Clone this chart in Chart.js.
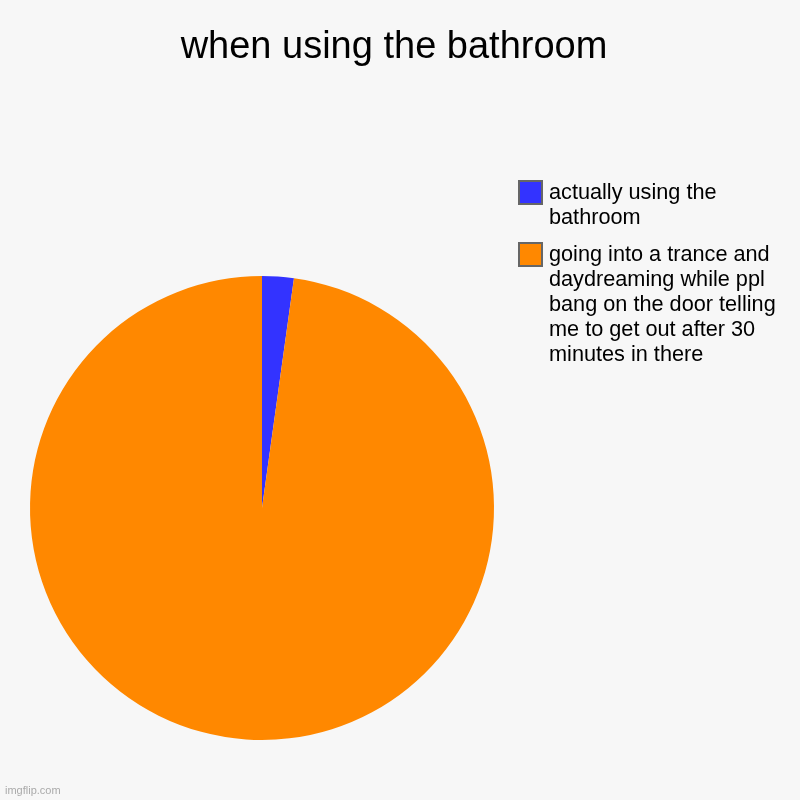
<!DOCTYPE html>
<html>
<head>
<meta charset="utf-8">
<script src="https://cdn.jsdelivr.net/npm/chart.js@4/dist/chart.umd.min.js"></script>
<style>
  html, body { margin: 0; padding: 0; background: #f7f7f7; }
  #wrap { width: 800px; height: 800px; }
</style>
</head>
<body>
<div id="wrap"><canvas id="pieChart" width="800" height="800"></canvas></div>
<script>
const chartTitle = "when using the bathroom";
const labels = [
    "actually using the bathroom",
    "going into a trance and daydreaming while ppl bang on the door telling me to get out after 30 minutes in there",
];
const values = [2.2, 97.8];
const sliceColors = ["#3333ff", "#ff8800"];

// wrap a label into lines that fit maxW
function wrapText(ctx, text, maxW) {
    let words = text.split(" ");
    let lines = [];
    let cur = "";
    for (let w of words) {
        let test = cur ? cur + " " + w : w;
        if (ctx.measureText(test).width > maxW && cur) {
            lines.push(cur);
            cur = w;
        } else {
            cur = test;
        }
    }
    if (cur) lines.push(cur);
    return lines;
}

/* draws title, legend and watermark */
const decorPlugin = {
    id: "decor",
    beforeDraw(chart) {
        const ctx = chart.ctx;
        ctx.save();
        ctx.fillStyle = "#f7f7f7";
        ctx.fillRect(0, 0, chart.width, chart.height);
        ctx.restore();
    },
    afterDraw(chart) {
        const ctx = chart.ctx;
        ctx.save();
        ctx.fillStyle = "#000";
        ctx.font = "38px 'Liberation Sans', Arial, sans-serif";
        ctx.textAlign = "center";
        ctx.textBaseline = "middle";
        ctx.fillText(chartTitle, 394, 48);

        // legend
        ctx.font = "21.7px 'Liberation Sans', Arial, sans-serif";
        ctx.textAlign = "left";
        let y = 193;
        labels.forEach((lab, i) => {
            ctx.fillStyle = "#666";
            ctx.fillRect(518, y - 13, 25, 25);
            ctx.fillStyle = sliceColors[i];
            ctx.fillRect(520, y - 11, 21, 21);
            ctx.fillStyle = "#000";
            let lines = wrapText(ctx, lab, 240);
            lines.forEach((ln, j) => {
                ctx.fillText(ln, 549, y + j * 25);
            });
            y += lines.length * 25 + 12;
        });

        ctx.font = "11px 'Liberation Sans', Arial, sans-serif";
        ctx.fillStyle = "#aaa";
        ctx.fillText("imgflip.com", 5, 791);
        ctx.restore();
    },
};

new Chart(document.getElementById("pieChart"), {
    type: "pie",
    data: {
        labels: labels,
        datasets: [
            {
                data: values,
                backgroundColor: sliceColors,
                borderWidth: 0,
            },
        ],
    },
    options: {
        responsive: false,
        animation: false,
        devicePixelRatio: 1,
        layout: {
            padding: { left: 30, right: 306, top: 276, bottom: 60 },
        },
        plugins: {
            legend: { display: false },
            title: { display: false },
            tooltip: { enabled: false },
        },
    },
    plugins: [decorPlugin],
});
</script>
</body>
</html>
